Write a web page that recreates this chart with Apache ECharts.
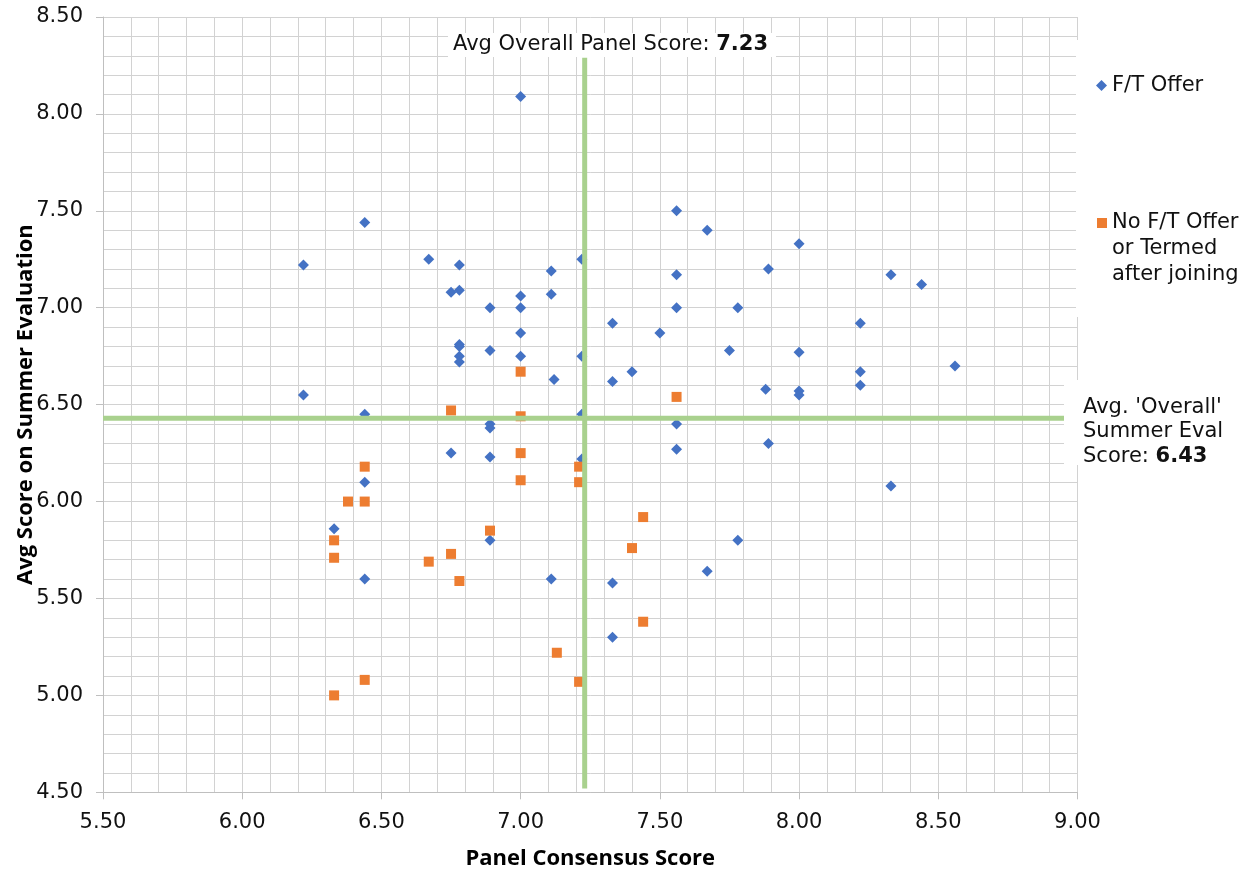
<!DOCTYPE html>
<html>
<head>
<meta charset="utf-8">
<script src="https://cdn.jsdelivr.net/npm/echarts@6/dist/echarts.min.js"></script>
<style>
  html, body { margin: 0; padding: 0; background: #fff; }
  #main { width: 1255px; height: 871px; }
</style>
</head>
<body>
<div id="main"></div>
<script>
// 数据：F/T Offer（蓝色菱形）
const offerPoints = [
  [6.22, 7.22], [6.44, 7.44], [6.67, 7.25], [6.78, 7.22], [6.75, 7.08],
  [6.78, 7.09], [7.00, 8.09], [7.00, 7.06], [7.11, 7.19], [7.11, 7.07],
  [7.22, 7.25], [7.56, 7.50], [7.67, 7.40], [8.00, 7.33], [7.89, 7.20],
  [7.56, 7.17], [8.33, 7.17], [8.44, 7.12], [6.89, 7.00], [7.00, 7.00],
  [7.00, 6.87], [6.78, 6.81], [6.78, 6.80], [6.78, 6.75], [6.78, 6.72],
  [6.89, 6.78], [7.00, 6.75], [6.22, 6.55], [6.44, 6.45], [6.89, 6.40],
  [6.89, 6.38], [6.75, 6.25], [6.89, 6.23], [6.44, 6.10], [6.33, 5.86],
  [6.89, 5.80], [7.56, 7.00], [7.78, 7.00], [7.33, 6.92], [7.50, 6.87],
  [8.22, 6.92], [7.22, 6.75], [7.75, 6.78], [8.00, 6.77], [8.56, 6.70],
  [7.12, 6.63], [7.33, 6.62], [7.40, 6.67], [8.22, 6.67], [8.22, 6.60],
  [7.88, 6.58], [8.00, 6.57], [8.00, 6.55], [7.22, 6.45], [7.56, 6.40],
  [7.56, 6.27], [7.89, 6.30], [7.22, 6.22], [8.33, 6.08], [7.78, 5.80],
  [6.44, 5.60], [7.11, 5.60], [7.33, 5.58], [7.67, 5.64], [7.33, 5.30]
];
// 数据：No F/T Offer or Termed after joining（橙色方块）
const noOfferPoints = [
  [7.00, 6.67], [6.75, 6.47], [7.00, 6.44], [7.56, 6.54], [7.00, 6.25],
  [7.00, 6.11], [6.44, 6.18], [6.38, 6.00], [6.44, 6.00], [7.21, 6.18],
  [7.21, 6.10], [7.44, 5.92], [6.89, 5.85], [6.33, 5.80], [6.33, 5.71],
  [6.75, 5.73], [6.67, 5.69], [6.78, 5.59], [7.40, 5.76], [7.44, 5.38],
  [7.13, 5.22], [7.21, 5.07], [6.44, 5.08], [6.33, 5.00]
];
// 平均线
const avgPanelScore = 7.23;
const avgEvalScore = 6.43;
const xRange = [5.5, 9.0];
const yRange = [4.5, 8.5];
// 竖线的上下端（上端停在标注框下沿）
const avgPanelLineY = [4.52, 8.29];

const seriesNames = ['F/T Offer', 'No F/T Offer or Termed after joining'];
const FONT = '"DejaVu Sans", Verdana, sans-serif';
const TITLE_FONT = '"Open Sans", sans-serif';
const FS = 21;

let myChart = echarts.init(document.getElementById('main'));

const gridColor = '#d2d2d2';
const axisColor = '#bfbfbf';

function valueAxis(range, name, extra) {
  return Object.assign({
    type: 'value',
    min: range[0],
    max: range[1],
    interval: 0.5,
    name: name,
    nameLocation: 'middle',
    nameMoveOverlap: false,
    nameTextStyle: { fontFamily: TITLE_FONT, fontWeight: 'bold', fontSize: 22, color: '#000' },
    axisLine: { show: true, lineStyle: { color: axisColor, width: 1 } },
    axisTick: { show: true, inside: false, length: 7, lineStyle: { color: axisColor } },
    minorTick: { show: false, splitNumber: 5 },
    splitLine: { show: true, lineStyle: { color: gridColor, width: 1 } },
    minorSplitLine: { show: true, lineStyle: { color: gridColor, width: 1 } }
  }, extra);
}

let option = {
  animation: false,
  backgroundColor: '#fff',
  grid: { left: 103, top: 17, right: 177.5, bottom: 78.7, containLabel: false, outerBoundsMode: 'none' },
  xAxis: valueAxis(xRange, 'Panel Consensus Score', { nameGap: 55, axisLabel: {
    fontFamily: FONT, fontSize: FS, color: '#111', margin: 20, formatter: v => v.toFixed(2) } }),
  yAxis: valueAxis(yRange, 'Avg Score on Summer Evaluation', { nameGap: 66, axisLabel: {
    fontFamily: FONT, fontSize: FS, color: '#111', margin: 20, formatter: v => v.toFixed(2) } }),
  legend: [
    {
      data: [seriesNames[0]],
      left: 1091, top: 70,
      orient: 'vertical',
      itemWidth: 11, itemHeight: 11,
      z: 20,
      textStyle: { fontFamily: FONT, fontSize: FS, color: '#111' }
    },
    {
      data: [seriesNames[1]],
      left: 1092, top: 153,
      orient: 'vertical',
      itemWidth: 10, itemHeight: 10,
      z: 20,
      // 上面两行空白，让第一行文字和图标对齐
      formatter: () => ' \n \nNo F/T Offer\nor Termed\nafter joining',
      textStyle: { fontFamily: FONT, fontSize: FS, color: '#111', lineHeight: 26 }
    }
  ],
  graphic: [
    // 图例区域遮住右边框
    { type: 'rect', z: 10, shape: { x: 1076, y: 40, width: 170, height: 277 }, style: { fill: '#fff' } },
    // 右侧标注
    { type: 'rect', z: 10, shape: { x: 1064, y: 380, width: 185, height: 85 }, style: { fill: '#fff' } },
    {
      type: 'text', z: 11, x: 1083, y: 395,
      style: {
        text: "Avg. 'Overall'\nSummer Eval\nScore: {b|" + avgEvalScore.toFixed(2) + '}',
        font: FS + 'px ' + FONT, fill: '#111', lineHeight: 24.5,
        rich: { b: { fontFamily: FONT, fontSize: FS, fontWeight: 'bold', lineHeight: 24.5, fill: '#111' } }
      }
    },
    // 顶部标注
    {
      type: 'text', z: 11, x: 448, y: 33,
      style: {
        text: 'Avg Overall Panel Score: {b|' + avgPanelScore.toFixed(2) + '}',
        font: FS + 'px ' + FONT, fill: '#111', lineHeight: 24,
        backgroundColor: '#fff', padding: [0, 8, 0, 5],
        rich: { b: { fontFamily: FONT, fontSize: FS, fontWeight: 'bold', lineHeight: 24, fill: '#111' } }
      }
    }
  ],
  series: [
    {
      name: seriesNames[0],
      type: 'scatter',
      symbol: 'diamond',
      symbolSize: 11,
      itemStyle: { color: '#4472c4', opacity: 1 },
      data: offerPoints,
      z: 3
    },
    {
      name: seriesNames[1],
      type: 'scatter',
      symbol: 'rect',
      symbolSize: 10,
      itemStyle: { color: '#ed7d31', opacity: 1 },
      data: noOfferPoints,
      z: 3
    },
    // 平均线（竖线）
    {
      name: 'avgPanel',
      type: 'line',
      symbol: 'none',
      silent: true,
      z: 5,
      lineStyle: { color: '#a9d18e', width: 5 },
      data: [[avgPanelScore, avgPanelLineY[0]], [avgPanelScore, avgPanelLineY[1]]]
    },
    // 平均线（横线）
    {
      name: 'avgEval',
      type: 'line',
      symbol: 'none',
      silent: true,
      z: 5,
      lineStyle: { color: '#a9d18e', width: 5 },
      data: [[xRange[0], avgEvalScore], [xRange[1], avgEvalScore]]
    }
  ]
};

option && myChart.setOption(option);
</script>
</body>
</html>
